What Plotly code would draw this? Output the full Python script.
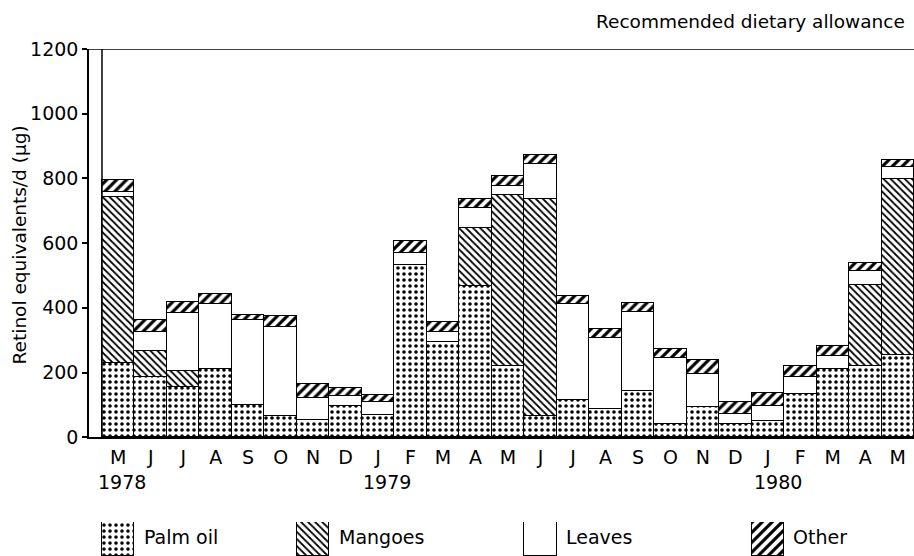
import plotly.graph_objects as go

months = ["M", "J", "J", "A", "S", "O", "N", "D", "J", "F", "M", "A", "M",
          "J", "J", "A", "S", "O", "N", "D", "J", "F", "M", "A", "M"]
palm_oil = [229, 186, 155, 212, 101, 65, 52, 96, 68, 533, 294, 466, 220,
            66, 114, 88, 143, 42, 92, 40, 49, 135, 210, 220, 253]
mangoes = [514, 82, 50, 0, 0, 0, 0, 0, 0, 0, 0, 181, 529,
           670, 0, 0, 0, 0, 0, 0, 0, 0, 0, 251, 545]
leaves = [16, 57, 180, 200, 260, 275, 70, 30, 41, 36, 31, 62, 28,
          110, 298, 218, 244, 204, 104, 33, 47, 51, 40, 44, 36]
other = [36, 36, 32, 31, 18, 34, 41, 27, 21, 39, 31, 27, 31,
         27, 26, 27, 28, 28, 42, 36, 41, 33, 31, 24, 24]
series_names = ["Palm oil", "Mangoes", "Leaves", "Other"]
year_labels = ["1978", "1979", "1980"]
year_pos = [0.12, 8.27, 20.3]
legend_pos = [0, 6, 13, 20]
y_ticks = [0, 200, 400, 600, 800, 1000, 1200]

FONT = "DejaVu Sans"
FS = 19
patterns = [
    dict(shape=".", size=6, solidity=0.28),
    dict(shape="\\", size=5, solidity=0.35),
    dict(shape="", size=8, solidity=0.3),
    dict(shape="/", size=7, solidity=0.45),
]

x = list(range(len(months)))
fig = go.Figure()
for name, vals, pat in zip(series_names, [palm_oil, mangoes, leaves, other], patterns):
    fig.add_trace(go.Bar(
        x=x, y=vals, name=name, width=1,
        marker=dict(color="white", line=dict(color="black", width=1.5),
                    pattern=dict(shape=pat["shape"], size=pat["size"], solidity=pat["solidity"],
                                 fgcolor="black", bgcolor="white", fillmode="replace")),
        showlegend=False, xaxis="x", yaxis="y"))

# legend boxes drawn on a separate small axis
for i, (name, pat) in enumerate(zip(series_names, patterns)):
    fig.add_trace(go.Bar(
        x=[legend_pos[i]], y=[1], width=1, base=0,
        marker=dict(color="white", line=dict(color="black", width=1.5),
                    pattern=dict(shape=pat["shape"], size=pat["size"], solidity=pat["solidity"],
                                 fgcolor="black", bgcolor="white", fillmode="replace")),
        showlegend=False, xaxis="x2", yaxis="y2"))
    fig.add_annotation(x=legend_pos[i] + 0.72, y=0.55, xref="x2", yref="y2",
                       text=name, showarrow=False, xanchor="left", yanchor="middle",
                       font=dict(family=FONT, size=FS, color="black"))

for lbl, pos in zip(year_labels, year_pos):
    fig.add_annotation(x=pos, y=0.1457, xref="x", yref="paper", text=lbl,
                       showarrow=False, xanchor="center", yanchor="middle",
                       font=dict(family=FONT, size=FS, color="black"))

fig.add_annotation(x=-0.084, y=0.614, xref="paper", yref="paper",
                   text="Retinol equivalents/d (µg)", textangle=-90, showarrow=False,
                   xanchor="center", yanchor="middle",
                   font=dict(family=FONT, size=18.5, color="black"))
fig.add_annotation(x=0.9915, y=1.055, xref="paper", yref="paper",
                   text="Recommended dietary allowance", showarrow=False,
                   xanchor="right", yanchor="middle",
                   font=dict(family=FONT, size=18.5, color="black"))

# recommended allowance frame
fig.add_shape(type="line", xref="paper", yref="y", x0=0, x1=1, y0=1200, y1=1200,
              line=dict(color="black", width=1.5))
fig.add_shape(type="line", xref="x", yref="y", x0=-0.5, x1=-0.5, y0=0, y1=1200,
              line=dict(color="black", width=1.5))

fig.update_layout(
    barmode="stack", bargap=0,
    width=914, height=567,
    margin=dict(l=89, r=0, t=49, b=0),
    paper_bgcolor="white", plot_bgcolor="white",
    font=dict(family=FONT, size=FS, color="black"),
    xaxis=dict(domain=[0, 1], range=[-0.9, 24.5], tickmode="array", tickvals=x,
               ticktext=months, showline=True, linecolor="black", linewidth=1.5,
               ticks="", showgrid=False, zeroline=False, anchor="y",
               ticklabelstandoff=2, tickfont=dict(family=FONT, size=FS)),
    yaxis=dict(domain=[0.2343, 1], range=[0, 1200], tickvals=y_ticks,
               showline=True, linecolor="black", linewidth=1.5,
               ticks="outside", ticklen=5, tickwidth=1.5, tickcolor="black",
               showgrid=False, zeroline=False, anchor="x",
               tickfont=dict(family=FONT, size=FS)),
    xaxis2=dict(domain=[0, 1], range=[-0.9, 24.5], visible=False, anchor="y2"),
    yaxis2=dict(domain=[0, 0.0669], range=[0, 1], visible=False, anchor="x2"),
)

post = ("document.documentElement.style.margin='0';document.documentElement.style.overflow='hidden';"
        "document.body.style.margin='0';document.body.style.padding='0';document.body.style.overflow='hidden';")
fig.write_html("out.html", config={"displayModeBar": False}, post_script=post)
